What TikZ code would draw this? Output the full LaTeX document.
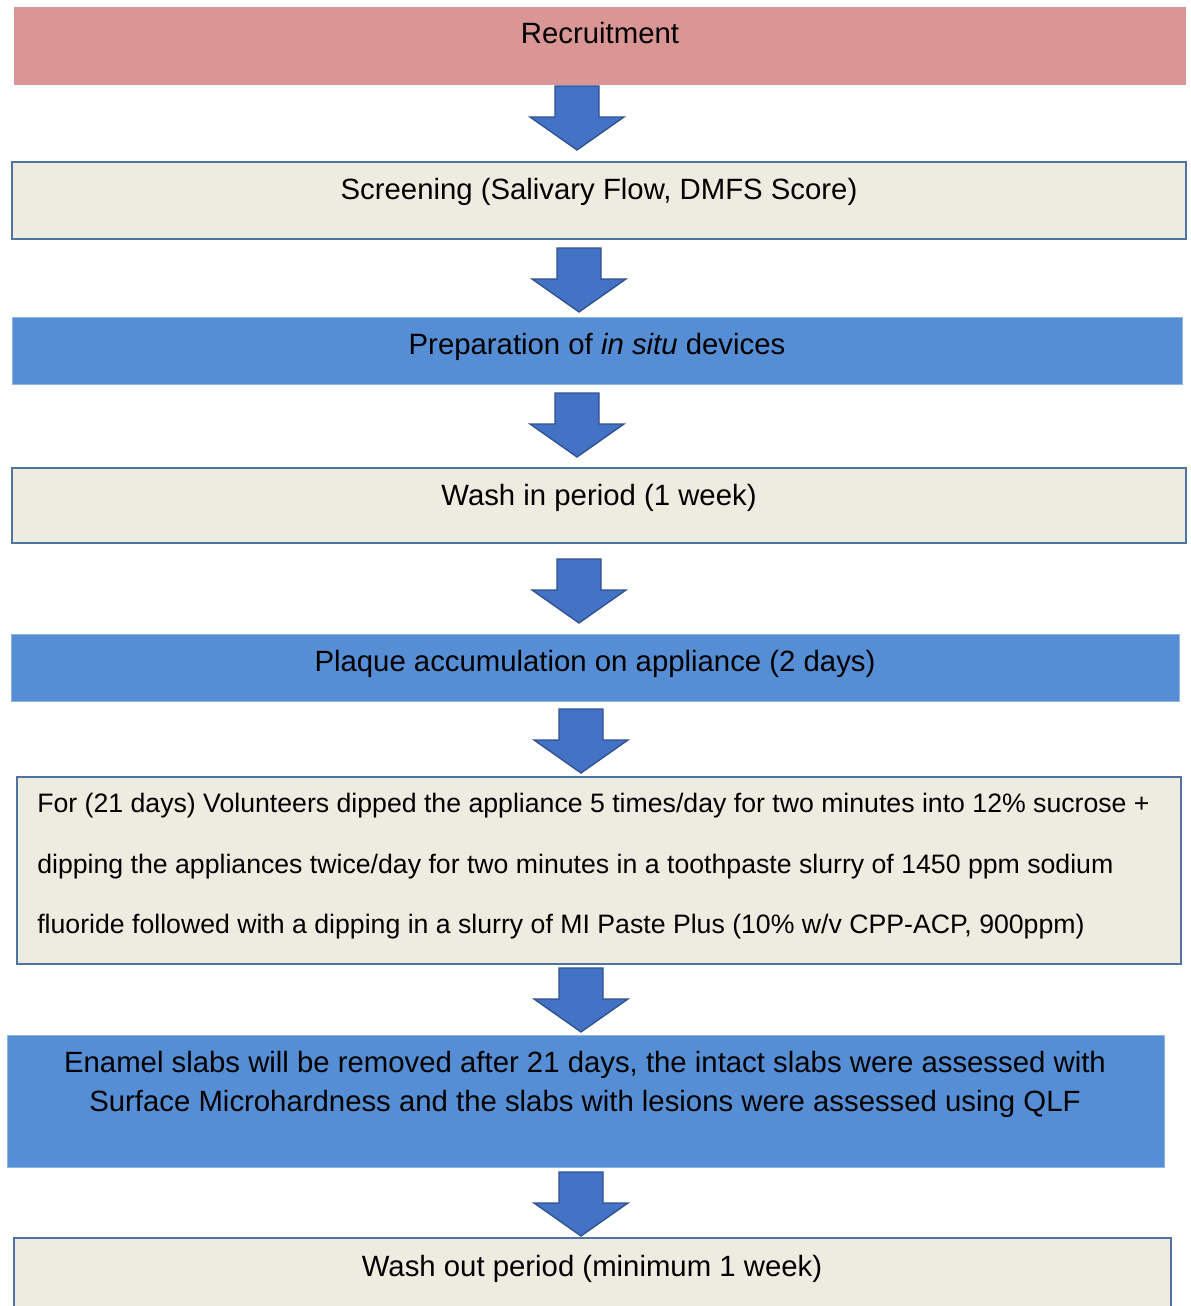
\documentclass[tikz,border=0pt]{standalone}
\usepackage{fontspec}
\setmainfont{Liberation Sans}
\definecolor{pinkfill}{HTML}{D99694}
\definecolor{beigefill}{HTML}{EEECE1}
\definecolor{beigeedge}{HTML}{50739F}
\definecolor{bluefill}{HTML}{558ED5}
\definecolor{blueedge}{HTML}{8EB4E3}
\definecolor{arrowfill}{HTML}{4472C4}
\definecolor{arrowedge}{HTML}{2F528F}
\newcommand{\blockarr}[3]{% center x, top y, name
  \path[arrowshape] (#1-22,#2) -- (#1+22,#2) -- (#1+22,#2+31) -- (#1+47,#2+31)
    -- (#1,#2+64) -- (#1-47,#2+31) -- (#1-22,#2+31) -- cycle;
  \coordinate (#3) at (#1,#2);}
\tikzset{
  pinkbox/.style={fill=pinkfill, draw=none},
  beigebox/.style={fill=beigefill, draw=beigeedge, line width=0.9pt},
  bluebox/.style={fill=bluefill, draw=blueedge, line width=0.75pt},
  arrowshape/.style={fill=arrowfill, draw=arrowedge, line width=1pt, line join=miter},
  headtxt/.style={anchor=base, inner sep=0pt, font=\fontsize{22}{26}\selectfont},
  bodytxt/.style={anchor=base west, inner sep=0pt, font=\fontsize{20}{24}\selectfont},
}
\begin{document}
\begin{tikzpicture}[x=0.75pt,y=-0.75pt]
\useasboundingbox (0,0) rectangle (1190,1306);
% boxes
\path[pinkbox] (14,7) rectangle (1186,85);
\path[beigebox] (12,162) rectangle (1186,239);
\path[bluebox] (12,317) rectangle (1182,384);
\path[beigebox] (12,468) rectangle (1186,543);
\path[bluebox] (11,634) rectangle (1179,701);
\path[beigebox] (17,777) rectangle (1181,964);
\path[bluebox] (7,1035) rectangle (1164,1167);
\fill[beigefill] (14,1238) rectangle (1171,1312);
\draw[beigebox, fill=none] (14,1312) -- (14,1238) -- (1171,1238) -- (1171,1312);
% texts
\node[headtxt] (t1) at (600,44) {Recruitment};
\node[headtxt] (t2) at (599,199) {Screening (Salivary Flow, DMFS Score)};
\node[headtxt] (t3) at (597,354) {Preparation of \textit{in situ} devices};
\node[headtxt] (t4) at (599,505) {Wash in period (1 week)};
\node[headtxt] (t5) at (595,671) {Plaque accumulation on appliance (2 days)};
\node[bodytxt] (t6a) at (37,812) {For (21 days) Volunteers dipped the appliance 5 times/day for two minutes into 12\% sucrose +};
\node[bodytxt] (t6b) at (37,873) {dipping the appliances twice/day for two minutes in a toothpaste slurry of 1450 ppm sodium};
\node[bodytxt] (t6c) at (37,933) {fluoride followed with a dipping in a slurry of MI Paste Plus (10\% w/v CPP-ACP, 900ppm)};
\node[headtxt] (t7a) at (585,1072) {Enamel slabs will be removed after 21 days, the intact slabs were assessed with};
\node[headtxt] (t7b) at (585,1111) {Surface Microhardness and the slabs with lesions were assessed using QLF};
\node[headtxt] (t8) at (592,1276) {Wash out period (minimum 1 week)};
% arrows
\blockarr{577}{86}{a1}
\blockarr{579}{248}{a2}
\blockarr{577}{393}{a3}
\blockarr{579}{559}{a4}
\blockarr{581}{709}{a5}
\blockarr{581}{968}{a6}
\blockarr{581}{1172}{a7}
\end{tikzpicture}
\end{document}
